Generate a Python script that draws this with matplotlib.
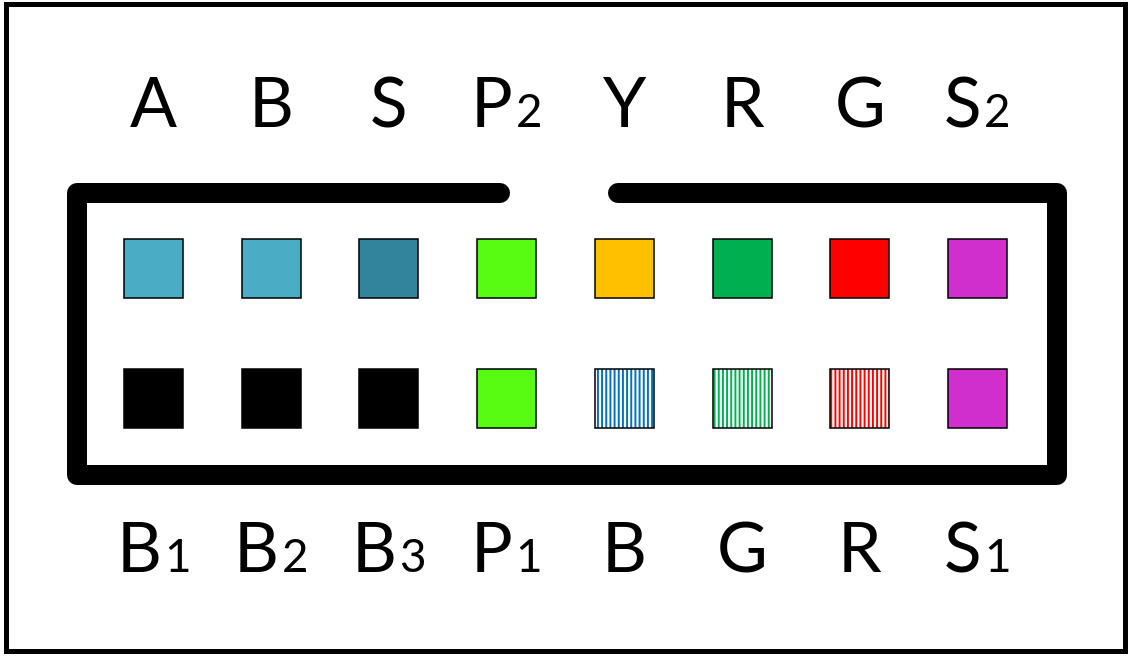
import matplotlib
matplotlib.use("Agg")
import matplotlib.pyplot as plt
from matplotlib.patches import Rectangle
from matplotlib.offsetbox import TextArea, HPacker, AnnotationBbox

plt.rcParams['hatch.linewidth'] = 1.4

# ---- data ----
top_labels = ["A", "B", "S", "P", "Y", "R", "G", "S"]
top_subs = ["", "", "", "2", "", "", "", "2"]
top_colors = ["#4BACC6", "#4BACC6", "#31849B", "#58FC12", "#FFC000", "#00B050", "#FF0000", "#D12FCD"]

bottom_labels = ["B", "B", "B", "P", "B", "G", "R", "S"]
bottom_subs = ["1", "2", "3", "1", "", "", "", "1"]
bottom_colors = ["#000000", "#000000", "#000000", "#58FC12", "#0070C0", "#00B050", "#FF0000", "#D12FCD"]
bottom_hatched = [False, False, False, False, True, True, True, False]

# ---- layout ----
W, H = 1131, 656
x0, step = 153.5, 117.7
sq = 59
row_y = [268.5, 398.5]
top_baseline, bottom_baseline = 128, 573

fig = plt.figure(figsize=(W / 100, H / 100), dpi=100)
ax = fig.add_axes([0, 0, 1, 1])
ax.set_xlim(0, W)
ax.set_ylim(H, 0)
ax.axis("off")

# outer frame
ax.add_patch(Rectangle((5.5, 3.5), 1119.5, 647.5, fill=False, edgecolor="black", lw=3.6))

# connector outline
lw_thick = 14.4
ax.plot([500, 77, 77, 1057, 1057, 618], [193, 193, 475, 475, 193, 193],
        color="black", lw=lw_thick, solid_joinstyle="round", solid_capstyle="round")

font = "Lato"

def label(x, baseline, main, sub):
    items = [TextArea(main, textprops=dict(fontsize=50, family=font, color="black"))]
    if sub:
        items.append(TextArea(sub, textprops=dict(fontsize=33, family=font, color="black")))
    pack = HPacker(children=items, align="baseline", pad=0, sep=2)
    ab = AnnotationBbox(pack, (x, baseline), xycoords="data", frameon=False,
                        box_alignment=(0.5, 0.18), pad=0)
    ax.add_artist(ab)

for i, (lab, sub, col) in enumerate(zip(top_labels, top_subs, top_colors)):
    x = x0 + i * step
    ax.add_patch(Rectangle((x - sq / 2, row_y[0] - sq / 2), sq, sq,
                           facecolor=col, edgecolor="black", lw=1.1))
    label(x, top_baseline, lab, sub)

for i, (lab, sub, col, hat) in enumerate(zip(bottom_labels, bottom_subs, bottom_colors, bottom_hatched)):
    x = x0 + i * step
    if hat:
        ax.add_patch(Rectangle((x - sq / 2, row_y[1] - sq / 2), sq, sq,
                               facecolor="white", edgecolor=col, hatch="||||", lw=0))
        ax.add_patch(Rectangle((x - sq / 2, row_y[1] - sq / 2), sq, sq,
                               fill=False, edgecolor="black", lw=1.1))
    else:
        ax.add_patch(Rectangle((x - sq / 2, row_y[1] - sq / 2), sq, sq,
                               facecolor=col, edgecolor="black", lw=1.1))
    label(x, bottom_baseline, lab, sub)

fig.savefig("out.png", dpi=100, facecolor="white")
